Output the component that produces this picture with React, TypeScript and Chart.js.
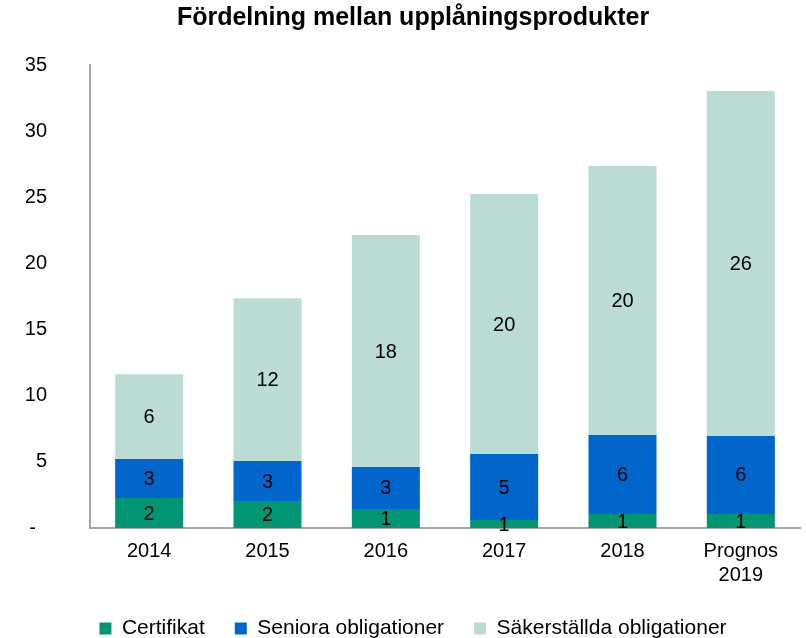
import React, { useEffect, useRef } from "react";
import { Chart, registerables } from "chart.js";

Chart.register(...registerables);

const categories: (string | string[])[] = ["2014", "2015", "2016", "2017", "2018", ["Prognos", "2019"]];
const certifikat = [2.27, 2.04, 1.44, 0.6, 1.06, 1.06];
const seniora = [2.95, 3.02, 3.17, 4.99, 5.97, 5.9];
const sakerstallda = [6.4, 12.3, 17.54, 19.66, 20.33, 26.08];
const seriesNames = ["Certifikat", "Seniora obligationer", "Säkerställda obligationer"];
const seriesColors = ["#009673", "#0066CC", "#BBDCD5"];
const yTicks = [0, 5, 10, 15, 20, 25, 30, 35];

const FONT = "'Liberation Sans', Arial, sans-serif";

const labelPlugin = {
  id: "segLabels",
  afterDatasetsDraw(chart: any) {
    const ctx = chart.ctx;
    ctx.save();
    ctx.font = `20px ${FONT}`;
    ctx.fillStyle = "#000";
    ctx.textAlign = "center";
    ctx.textBaseline = "middle";
    chart.data.datasets.forEach((ds: any, di: number) => {
      const meta = chart.getDatasetMeta(di);
      meta.data.forEach((el: any, i: number) => {
        const v = ds.data[i];
        const y = (el.y + el.base) / 2;
        ctx.fillText(String(Math.round(v)), el.x, y + 1);
      });
    });
    ctx.restore();
  },
};

export default function App() {
  const ref = useRef<HTMLCanvasElement>(null);
  useEffect(() => {
    const data = [certifikat, seniora, sakerstallda];
    const chart = new Chart(ref.current!, {
      type: "bar",
      data: {
        labels: categories as any,
        datasets: data.map((d, i) => ({
          label: seriesNames[i],
          data: d,
          backgroundColor: seriesColors[i],
          borderWidth: 0,
          barPercentage: 0.575,
          categoryPercentage: 1,
        })),
      },
      options: {
        animation: false,
        responsive: false,
        maintainAspectRatio: false,
        layout: { padding: { left: 26, right: 6, top: 0, bottom: 0 } },
        plugins: {
          title: {
            display: true,
            text: "Fördelning mellan upplåningsprodukter",
            color: "#000",
            font: { family: FONT, size: 25, weight: "bold", lineHeight: 1.2 },
            padding: { top: 3, bottom: 32 },
          },
          legend: {
            position: "bottom",
            maxHeight: 50,
            labels: {
              boxWidth: 12,
              boxHeight: 12,
              color: "#000",
              font: { family: FONT, size: 21 },
              padding: 30,
            },
          },
          tooltip: { enabled: false },
        },
        scales: {
          x: {
            stacked: true,
            grid: { display: false, drawTicks: false },
            border: { display: true, color: "#A6A6A6", width: 2 },
            afterFit: (s: any) => {
              s.height = 60;
            },
            ticks: {
              color: "#000",
              font: { family: FONT, size: 20, lineHeight: 1.17 },
              padding: 12,
              maxRotation: 0,
              autoSkip: false,
            },
          },
          y: {
            stacked: true,
            min: 0,
            max: 35,
            grid: { display: false, drawTicks: false },
            border: { display: true, color: "#A6A6A6", width: 2 },
            afterFit: (s: any) => {
              s.width = 64;
            },
            afterBuildTicks: (s: any) => {
              s.ticks = yTicks.map((v) => ({ value: v }));
            },
            ticks: {
              color: "#000",
              font: { family: FONT, size: 20 },
              padding: 43,
              callback: (v: any) => (Number(v) === 0 ? "-  " : String(v)),
            },
          },
        },
      },
      plugins: [labelPlugin],
    });
    return () => chart.destroy();
  }, []);
  return (
    <div style={{ position: "fixed", left: 0, top: 0, width: 806, height: 638, background: "#fff" }}>
      <canvas ref={ref} width={806} height={638} style={{ width: 806, height: 638 }} />
    </div>
  );
}
